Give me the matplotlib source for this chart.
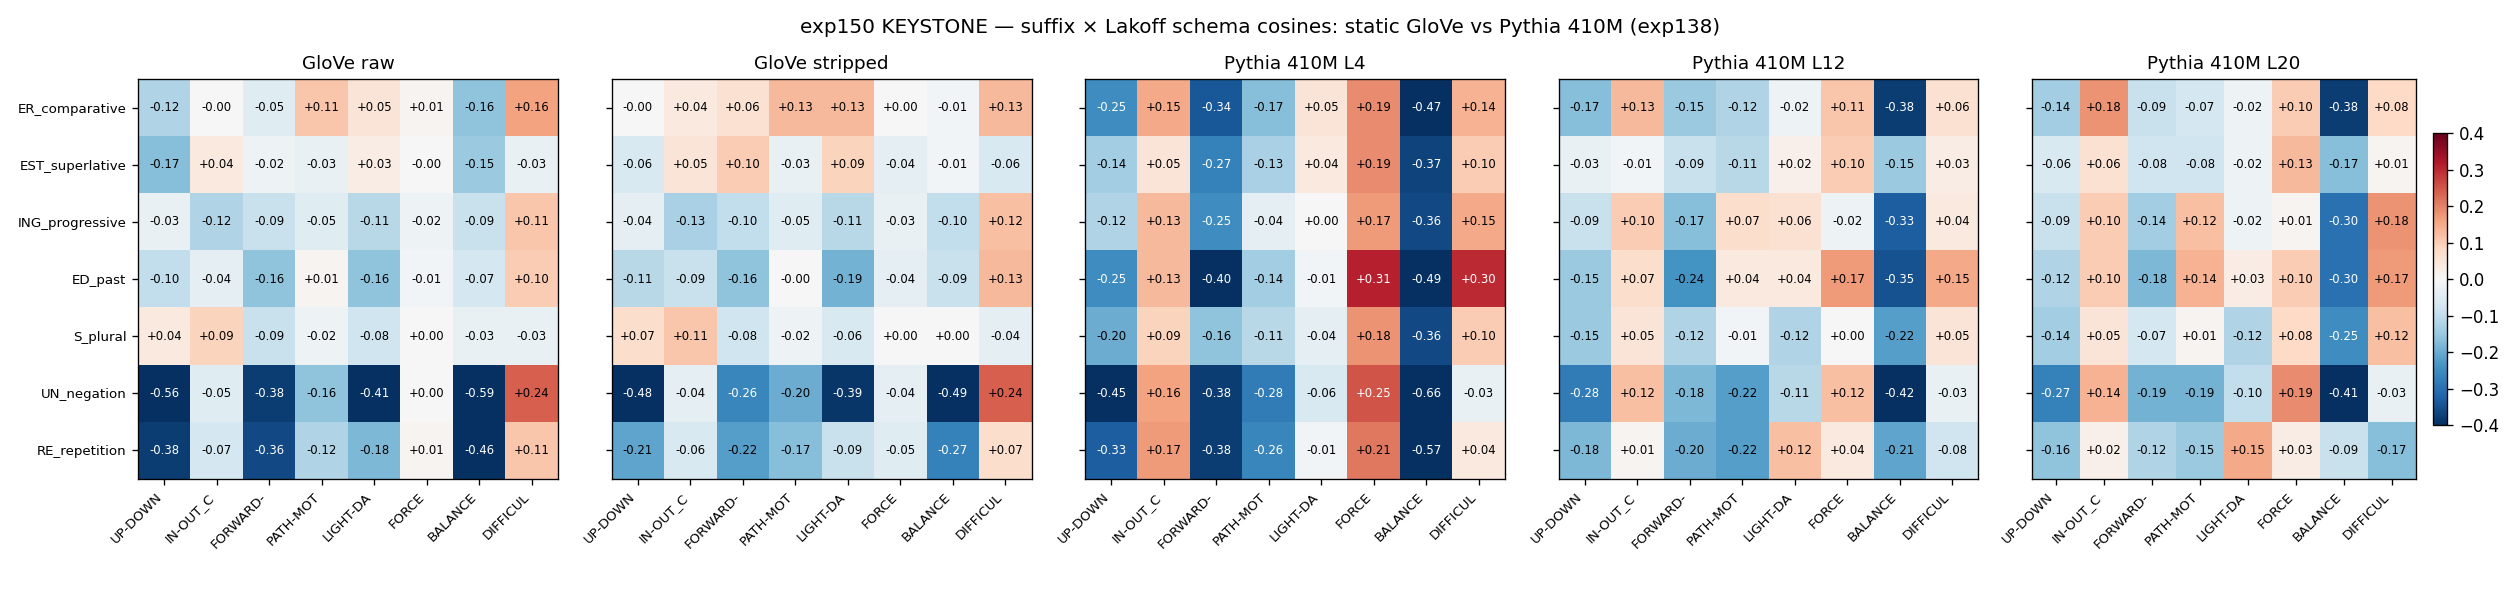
import matplotlib
matplotlib.use('Agg')
import matplotlib.pyplot as plt
import numpy as np

suffixes=['ER_comparative','EST_superlative','ING_progressive','ED_past','S_plural','UN_negation','RE_repetition']
schemas=['UP-DOWN','IN-OUT_C','FORWARD-','PATH-MOT','LIGHT-DA','FORCE','BALANCE','DIFFICUL']

glove_raw=[
    [-0.12,-0.0,-0.05,0.11,0.05,0.01,-0.16,0.16],
    [-0.17,0.04,-0.02,-0.03,0.03,-0.0,-0.15,-0.03],
    [-0.03,-0.12,-0.09,-0.05,-0.11,-0.02,-0.09,0.11],
    [-0.10,-0.04,-0.16,0.01,-0.16,-0.01,-0.07,0.10],
    [0.04,0.09,-0.09,-0.02,-0.08,0.00,-0.03,-0.03],
    [-0.56,-0.05,-0.38,-0.16,-0.41,0.00,-0.59,0.24],
    [-0.38,-0.07,-0.36,-0.12,-0.18,0.01,-0.46,0.11]]
glove_stripped=[
    [-0.0,0.04,0.06,0.13,0.13,0.00,-0.01,0.13],
    [-0.06,0.05,0.10,-0.03,0.09,-0.04,-0.01,-0.06],
    [-0.04,-0.13,-0.10,-0.05,-0.11,-0.03,-0.10,0.12],
    [-0.11,-0.09,-0.16,-0.0,-0.19,-0.04,-0.09,0.13],
    [0.07,0.11,-0.08,-0.02,-0.06,0.00,0.00,-0.04],
    [-0.48,-0.04,-0.26,-0.20,-0.39,-0.04,-0.49,0.24],
    [-0.21,-0.06,-0.22,-0.17,-0.09,-0.05,-0.27,0.07]]
pythia_l4=[
    [-0.25,0.15,-0.34,-0.17,0.05,0.19,-0.47,0.14],
    [-0.14,0.05,-0.27,-0.13,0.04,0.19,-0.37,0.10],
    [-0.12,0.13,-0.25,-0.04,0.00,0.17,-0.36,0.15],
    [-0.25,0.13,-0.40,-0.14,-0.01,0.31,-0.49,0.30],
    [-0.20,0.09,-0.16,-0.11,-0.04,0.18,-0.36,0.10],
    [-0.45,0.16,-0.38,-0.28,-0.06,0.25,-0.66,-0.03],
    [-0.33,0.17,-0.38,-0.26,-0.01,0.21,-0.57,0.04]]
pythia_l12=[
    [-0.17,0.13,-0.15,-0.12,-0.02,0.11,-0.38,0.06],
    [-0.03,-0.01,-0.09,-0.11,0.02,0.10,-0.15,0.03],
    [-0.09,0.10,-0.17,0.07,0.06,-0.02,-0.33,0.04],
    [-0.15,0.07,-0.24,0.04,0.04,0.17,-0.35,0.15],
    [-0.15,0.05,-0.12,-0.01,-0.12,0.00,-0.22,0.05],
    [-0.28,0.12,-0.18,-0.22,-0.11,0.12,-0.42,-0.03],
    [-0.18,0.01,-0.20,-0.22,0.12,0.04,-0.21,-0.08]]
pythia_l20=[
    [-0.14,0.18,-0.09,-0.07,-0.02,0.10,-0.38,0.08],
    [-0.06,0.06,-0.08,-0.08,-0.02,0.13,-0.17,0.01],
    [-0.09,0.10,-0.14,0.12,-0.02,0.01,-0.30,0.18],
    [-0.12,0.10,-0.18,0.14,0.03,0.10,-0.30,0.17],
    [-0.14,0.05,-0.07,0.01,-0.12,0.08,-0.25,0.12],
    [-0.27,0.14,-0.19,-0.19,-0.10,0.19,-0.41,-0.03],
    [-0.16,0.02,-0.12,-0.15,0.15,0.03,-0.09,-0.17]]

panels=[('GloVe raw',glove_raw),('GloVe stripped',glove_stripped),
        ('Pythia 410M L4',pythia_l4),('Pythia 410M L12',pythia_l12),('Pythia 410M L20',pythia_l20)]

fig,axes=plt.subplots(1,5,figsize=(21,5),dpi=120)
fig.subplots_adjust(left=0.0548,right=0.973,top=0.868,bottom=0.2017,wspace=0.1274)
for n,(title,data) in enumerate(panels):
    ax=axes[n]
    mat=np.array(data)
    im=ax.imshow(mat,cmap='RdBu_r',vmin=-0.4,vmax=0.4,aspect='auto')
    for i in range(mat.shape[0]):
        for j in range(mat.shape[1]):
            v=mat[i,j]
            col='white' if abs(v)>=0.25 else 'black'
            ax.text(j,i,f'{v:+.2f}',ha='center',va='center',fontsize=7,color=col)
    ax.set_title(title,fontsize=11)
    ax.set_xticks(range(len(schemas)))
    ax.set_xticklabels(schemas,rotation=45,ha='right',fontsize=8)
    ax.set_yticks(range(len(suffixes)))
    if n==0:
        ax.set_yticklabels(suffixes,fontsize=8)
    else:
        ax.set_yticklabels([])
fig.colorbar(im,ax=axes[-1],fraction=0.046,pad=0.04,shrink=0.73)
fig.suptitle('exp150 KEYSTONE \u2014 suffix \u00d7 Lakoff schema cosines: static GloVe vs Pythia 410M (exp138)',fontsize=12,y=0.97)
fig.savefig('out.png',dpi=120)
